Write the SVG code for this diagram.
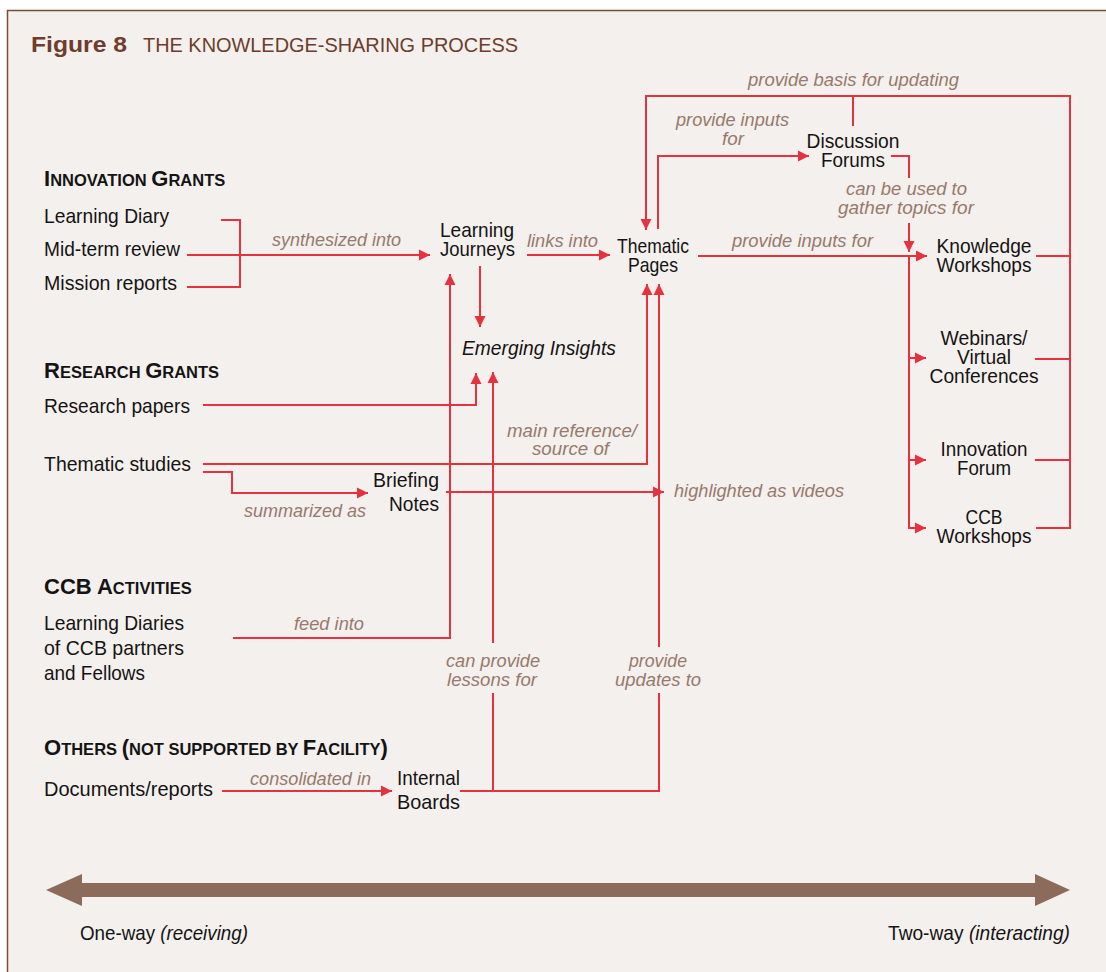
<svg xmlns="http://www.w3.org/2000/svg" width="1106" height="972" viewBox="0 0 1106 972">
<defs>
<marker id="ah" markerUnits="userSpaceOnUse" markerWidth="12" markerHeight="12" refX="11" refY="6" orient="auto">
<path d="M0,0.5 L11,6 L0,11.5 z" fill="#e5323e"/>
</marker>
<style>
.t{font-family:"Liberation Sans",Arial,sans-serif;font-size:21px;fill:#141414}
.h{font-family:"Liberation Sans",Arial,sans-serif;font-weight:bold;fill:#141414;font-size:16.5px}
.b{font-size:22px}
.l{font-family:"Liberation Sans",Arial,sans-serif;font-style:italic;font-size:19px;fill:#98796c}
.c{fill:none;stroke:#e5323e;stroke-width:2}
.a{marker-end:url(#ah)}
.m{text-anchor:middle}
.e{text-anchor:end}
</style>
</defs>
<rect x="7.5" y="10.5" width="1110" height="980" fill="#f4f0ed" stroke="#7b4b35" stroke-width="1.5"/>
<g id="title">
<text x="31" y="52" font-family="Liberation Sans,Arial,sans-serif" font-weight="bold" font-size="22" fill="#6e3d2b" textLength="96" lengthAdjust="spacingAndGlyphs">Figure 8</text>
<text x="143" y="52" font-family="Liberation Sans,Arial,sans-serif" font-size="21" fill="#6e3d2b" textLength="375" lengthAdjust="spacingAndGlyphs">THE KNOWLEDGE-SHARING PROCESS</text>
</g>
<g id="connectors">
<path class="c" d="M221,220 H240 V287 H187"/>
<path class="c a" d="M187,255 H430"/>
<path class="c a" d="M527,255 H610"/>
<path class="c a" d="M480,266 V327"/>
<path class="c a" d="M698,256 H927"/>
<path class="c a" d="M658,229 V156 H809"/>
<path class="c" d="M891,156 H909 V178"/>
<path class="c a" d="M909,223 V252"/>
<path class="c" d="M853,96 V126"/>
<path class="c" d="M1036,256 H1070"/>
<path class="c" d="M1035,359 H1070"/>
<path class="c" d="M1035,460 H1070"/>
<path class="c a" d="M1036,528 H1070 V96 H646 V230"/>
<path class="c a" d="M909,257 V528 H926"/>
<path class="c a" d="M909,358 H926"/>
<path class="c a" d="M909,460 H926"/>
<path class="c a" d="M203,405 H476 V373"/>
<path class="c a" d="M203,464 H647 V284"/>
<path class="c a" d="M203,472 H232 V493 H368"/>
<path class="c a" d="M446,492 H664"/>
<path class="c a" d="M233,638 H450 V274"/>
<path class="c a" d="M222,791 H392"/>
<path class="c" d="M460,791 H659 V693"/>
<path class="c a" d="M659,647 V284"/>
<path class="c" d="M493,791 V693"/>
<path class="c a" d="M493,643 V372"/>
<text class="l" x="748" y="86" textLength="211" lengthAdjust="spacingAndGlyphs">provide basis for updating</text>
<text class="l" x="676" y="126" textLength="113" lengthAdjust="spacingAndGlyphs">provide inputs</text>
<text class="l m" x="733" y="145" textLength="22" lengthAdjust="spacingAndGlyphs">for</text>
<text class="l" x="846" y="195" textLength="121" lengthAdjust="spacingAndGlyphs">can be used to</text>
<text class="l" x="838" y="214" textLength="136" lengthAdjust="spacingAndGlyphs">gather topics for</text>
<text class="l" x="272" y="246" textLength="129" lengthAdjust="spacingAndGlyphs">synthesized into</text>
<text class="l" x="527" y="247" textLength="71" lengthAdjust="spacingAndGlyphs">links into</text>
<text class="l" x="732" y="247" textLength="141" lengthAdjust="spacingAndGlyphs">provide inputs for</text>
<text class="l" x="507" y="437" textLength="130" lengthAdjust="spacingAndGlyphs">main reference/</text>
<text class="l" x="532" y="455" textLength="77" lengthAdjust="spacingAndGlyphs">source of</text>
<text class="l" x="674" y="497" textLength="170" lengthAdjust="spacingAndGlyphs">highlighted as videos</text>
<text class="l" x="244" y="517" textLength="122" lengthAdjust="spacingAndGlyphs">summarized as</text>
<text class="l" x="294" y="630" textLength="70" lengthAdjust="spacingAndGlyphs">feed into</text>
<text class="l" x="446" y="667" textLength="94" lengthAdjust="spacingAndGlyphs">can provide</text>
<text class="l" x="447" y="686" textLength="90" lengthAdjust="spacingAndGlyphs">lessons for</text>
<text class="l" x="629" y="667" textLength="58" lengthAdjust="spacingAndGlyphs">provide</text>
<text class="l" x="615" y="686" textLength="86" lengthAdjust="spacingAndGlyphs">updates to</text>
<text class="l" x="250" y="785" textLength="121" lengthAdjust="spacingAndGlyphs">consolidated in</text>
</g>
<g id="innovation-grants">
<text class="h" x="44" y="186"><tspan class="b">I</tspan>NNOVATION <tspan class="b">G</tspan>RANTS</text>
<text class="t" x="44" y="223" textLength="125" lengthAdjust="spacingAndGlyphs">Learning Diary</text>
<text class="t" x="44" y="256" textLength="136" lengthAdjust="spacingAndGlyphs">Mid-term review</text>
<text class="t" x="44" y="290" textLength="133" lengthAdjust="spacingAndGlyphs">Mission reports</text>
</g>
<g id="research-grants">
<text class="h" x="44" y="378"><tspan class="b">R</tspan>ESEARCH <tspan class="b">G</tspan>RANTS</text>
<text class="t" x="44" y="413" textLength="146" lengthAdjust="spacingAndGlyphs">Research papers</text>
<text class="t" x="44" y="471" textLength="147" lengthAdjust="spacingAndGlyphs">Thematic studies</text>
</g>
<g id="ccb-activities">
<text class="h" x="44" y="594"><tspan class="b">CCB A</tspan>CTIVITIES</text>
<text class="t" x="44" y="630" textLength="140" lengthAdjust="spacingAndGlyphs">Learning Diaries</text>
<text class="t" x="44" y="655" textLength="140" lengthAdjust="spacingAndGlyphs">of CCB partners</text>
<text class="t" x="44" y="680" textLength="101" lengthAdjust="spacingAndGlyphs">and Fellows</text>
</g>
<g id="others">
<text class="h" x="44" y="755"><tspan class="b">O</tspan>THERS <tspan class="b">(</tspan>NOT SUPPORTED BY <tspan class="b">F</tspan>ACILITY<tspan class="b">)</tspan></text>
<text class="t" x="44" y="796" textLength="169" lengthAdjust="spacingAndGlyphs">Documents/reports</text>
</g>
<g id="learning-journeys">
<text class="t" x="440" y="237" textLength="74" lengthAdjust="spacingAndGlyphs">Learning</text>
<text class="t" x="440" y="256" textLength="75" lengthAdjust="spacingAndGlyphs">Journeys</text>
</g>
<g id="thematic-pages">
<text class="t m" x="653" y="253" textLength="72" lengthAdjust="spacingAndGlyphs">Thematic</text>
<text class="t m" x="653" y="272" textLength="50" lengthAdjust="spacingAndGlyphs">Pages</text>
</g>
<g id="discussion-forums">
<text class="t m" x="853" y="148" textLength="93" lengthAdjust="spacingAndGlyphs">Discussion</text>
<text class="t m" x="853" y="167" textLength="64" lengthAdjust="spacingAndGlyphs">Forums</text>
</g>
<g id="emerging-insights">
<text class="t" x="462" y="355" font-style="italic" textLength="154" lengthAdjust="spacingAndGlyphs">Emerging Insights</text>
</g>
<g id="briefing-notes">
<text class="t e" x="439" y="487" textLength="66" lengthAdjust="spacingAndGlyphs">Briefing</text>
<text class="t e" x="439" y="511" textLength="50" lengthAdjust="spacingAndGlyphs">Notes</text>
</g>
<g id="internal-boards">
<text class="t" x="397" y="785" textLength="63" lengthAdjust="spacingAndGlyphs">Internal</text>
<text class="t" x="397" y="809" textLength="63" lengthAdjust="spacingAndGlyphs">Boards</text>
</g>
<g id="knowledge-workshops">
<text class="t m" x="984" y="253" textLength="95" lengthAdjust="spacingAndGlyphs">Knowledge</text>
<text class="t m" x="984" y="272" textLength="95" lengthAdjust="spacingAndGlyphs">Workshops</text>
</g>
<g id="webinars">
<text class="t m" x="984" y="345" textLength="87" lengthAdjust="spacingAndGlyphs">Webinars/</text>
<text class="t m" x="984" y="364" textLength="54" lengthAdjust="spacingAndGlyphs">Virtual</text>
<text class="t m" x="984" y="383" textLength="109" lengthAdjust="spacingAndGlyphs">Conferences</text>
</g>
<g id="innovation-forum">
<text class="t m" x="984" y="456" textLength="87" lengthAdjust="spacingAndGlyphs">Innovation</text>
<text class="t m" x="984" y="475" textLength="54" lengthAdjust="spacingAndGlyphs">Forum</text>
</g>
<g id="ccb-workshops">
<text class="t m" x="984" y="524" textLength="37" lengthAdjust="spacingAndGlyphs">CCB</text>
<text class="t m" x="984" y="543" textLength="95" lengthAdjust="spacingAndGlyphs">Workshops</text>
</g>
<g id="scale">
<path d="M46,890 L82,874 L82,883 L1035,883 L1035,874 L1070,890 L1035,906 L1035,897 L82,897 L82,906 z" fill="#8c6b5b"/>
<text class="t" x="80" y="940" font-size="19" textLength="168" lengthAdjust="spacingAndGlyphs">One-way <tspan font-style="italic">(receiving)</tspan></text>
<text class="t" x="888" y="940" font-size="19" textLength="182" lengthAdjust="spacingAndGlyphs">Two-way <tspan font-style="italic">(interacting)</tspan></text>
</g>
</svg>
